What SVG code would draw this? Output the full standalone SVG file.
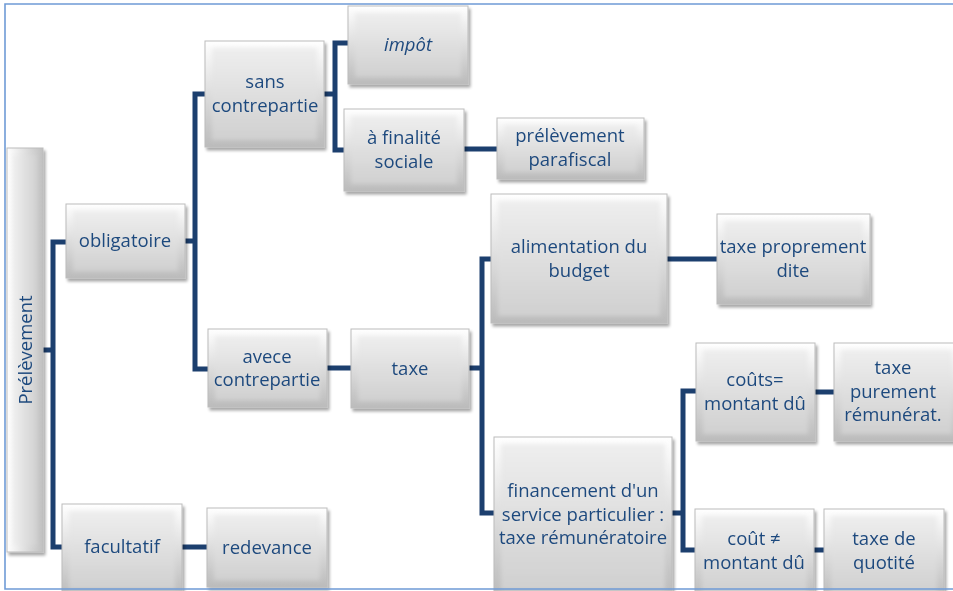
<svg xmlns="http://www.w3.org/2000/svg" width="953" height="591" viewBox="0 0 953 591">
  <defs>
    <linearGradient id="gOuter" x1="0" y1="0" x2="0" y2="1">
      <stop offset="0" stop-color="#ffffff"/>
      <stop offset="1" stop-color="#bbbbbb"/>
    </linearGradient>
    <linearGradient id="gInner" x1="0" y1="0" x2="0" y2="1">
      <stop offset="0" stop-color="#eeeeee"/>
      <stop offset="1" stop-color="#d0d0d0"/>
    </linearGradient>
    <linearGradient id="gOuterH" x1="0" y1="0" x2="1" y2="0">
      <stop offset="0" stop-color="#ffffff"/>
      <stop offset="1" stop-color="#c0c0c0"/>
    </linearGradient>
    <linearGradient id="gInnerH" x1="0" y1="0" x2="1" y2="0">
      <stop offset="0" stop-color="#eeeeee"/>
      <stop offset="1" stop-color="#d2d2d2"/>
    </linearGradient>
    <filter id="shadow" x="-10%" y="-10%" width="130%" height="130%">
      <feGaussianBlur in="SourceAlpha" stdDeviation="1.6"/>
      <feOffset dx="2" dy="3" result="b"/>
      <feComponentTransfer><feFuncA type="linear" slope="0.35"/></feComponentTransfer>
      <feMerge><feMergeNode/><feMergeNode in="SourceGraphic"/></feMerge>
    </filter>
    <filter id="soft" x="-10%" y="-10%" width="120%" height="120%">
      <feGaussianBlur stdDeviation="2.2"/>
    </filter>
  </defs>
  <style>
    .box { fill: url(#gOuter); stroke: #bcbcbc; stroke-width: 1; }
    .bevel { fill: url(#gInner); filter: url(#soft); }
    .boxH { fill: url(#gOuterH); stroke: #bcbcbc; stroke-width: 1; }
    .bevelH { fill: url(#gInnerH); filter: url(#soft); }
    .node { filter: url(#shadow); }
    text { font-family: "Open Sans", "Noto Sans", "Liberation Sans", sans-serif; font-size: 18.5px; fill: #1f4a7e; text-anchor: middle; }
    .it { font-style: italic; }
    .link { fill: none; stroke: #1c3f6e; stroke-width: 5; stroke-linejoin: miter; }
    .frame { fill: none; stroke: #6f9bd6; stroke-width: 1.6; }
  </style>

  <rect width="953" height="591" fill="#ffffff"/>

  <g id="connectors">
    <path class="link" d="M43 350 H53 M66 242 H53 V547 H62"/>
    <path class="link" d="M185 241 H195 M205 94 H195 V369 H208"/>
    <path class="link" d="M324 94 H335 M348 43 H335 V150 H344"/>
    <path class="link" d="M464 149 H497"/>
    <path class="link" d="M182 547 H207"/>
    <path class="link" d="M327 368 H351"/>
    <path class="link" d="M469 368 H482 M491 259 H482 V513 H494"/>
    <path class="link" d="M667 259 H717"/>
    <path class="link" d="M672 513 H683 M696 391 H683 V550 H695"/>
    <path class="link" d="M815 392 H834"/>
    <path class="link" d="M814 550 H824"/>
  </g>

  <g id="prelevement" class="node">
    <rect class="boxH" x="7" y="148" width="36" height="404"/>
    <rect class="bevelH" x="14" y="155" width="22" height="390"/>
    <text transform="translate(31.5 350) rotate(-90)">Prélèvement</text>
  </g>

  <g id="obligatoire" class="node">
    <rect class="box" x="66" y="204" width="119" height="74"/>
    <rect class="bevel" x="73" y="211" width="105" height="60"/>
    <text x="125" y="246.5">obligatoire</text>
  </g>

  <g id="facultatif" class="node">
    <rect class="box" x="62" y="504" width="120" height="92"/>
    <rect class="bevel" x="69" y="511" width="106" height="78"/>
    <text x="122" y="552.5">facultatif</text>
  </g>

  <g id="redevance" class="node">
    <rect class="box" x="207" y="508" width="120" height="79"/>
    <rect class="bevel" x="214" y="515" width="106" height="65"/>
    <text x="267" y="553.5">redevance</text>
  </g>

  <g id="sans-contrepartie" class="node">
    <rect class="box" x="205" y="41" width="119" height="106"/>
    <rect class="bevel" x="212" y="48" width="105" height="92"/>
    <text x="265" y="88">sans</text>
    <text x="265" y="111.5">contrepartie</text>
  </g>

  <g id="impot" class="node">
    <rect class="box" x="348" y="6" width="120" height="78"/>
    <rect class="bevel" x="355" y="13" width="106" height="64"/>
    <text class="it" x="408" y="50.5">impôt</text>
  </g>

  <g id="finalite-sociale" class="node">
    <rect class="box" x="344" y="109" width="120" height="82"/>
    <rect class="bevel" x="351" y="116" width="106" height="68"/>
    <text x="404" y="144">à finalité</text>
    <text x="404" y="167.5">sociale</text>
  </g>

  <g id="prelevement-parafiscal" class="node">
    <rect class="box" x="497" y="118" width="147" height="61"/>
    <rect class="bevel" x="504" y="125" width="133" height="47"/>
    <text x="570" y="142">prélèvement</text>
    <text x="570" y="165.5">parafiscal</text>
  </g>

  <g id="alimentation-budget" class="node">
    <rect class="box" x="491" y="194" width="176" height="129"/>
    <rect class="bevel" x="498" y="201" width="162" height="115"/>
    <text x="579" y="253">alimentation du</text>
    <text x="579" y="276.5">budget</text>
  </g>

  <g id="taxe-proprement-dite" class="node">
    <rect class="box" x="717" y="214" width="153" height="90"/>
    <rect class="bevel" x="724" y="221" width="139" height="76"/>
    <text x="793" y="253">taxe proprement</text>
    <text x="793" y="276.5">dite</text>
  </g>

  <g id="avec-contrepartie" class="node">
    <rect class="box" x="208" y="329" width="119" height="78"/>
    <rect class="bevel" x="215" y="336" width="105" height="64"/>
    <text x="267" y="362.5">avece</text>
    <text x="267" y="386">contrepartie</text>
  </g>

  <g id="taxe" class="node">
    <rect class="box" x="351" y="329" width="118" height="79"/>
    <rect class="bevel" x="358" y="336" width="104" height="65"/>
    <text x="410" y="374.5">taxe</text>
  </g>

  <g id="financement-service" class="node">
    <rect class="box" x="494" y="437" width="178" height="160"/>
    <rect class="bevel" x="501" y="444" width="164" height="146"/>
    <text x="583" y="496.5">financement d'un</text>
    <text x="583" y="520.5">service particulier :</text>
    <text x="583" y="544">taxe rémunératoire</text>
  </g>

  <g id="couts-egal" class="node">
    <rect class="box" x="696" y="343" width="119" height="98"/>
    <rect class="bevel" x="703" y="350" width="105" height="84"/>
    <text x="755" y="385.5">coûts=</text>
    <text x="755" y="409.5">montant dû</text>
  </g>

  <g id="taxe-purement" class="node">
    <rect class="box" x="834" y="343" width="125" height="98"/>
    <rect class="bevel" x="841" y="350" width="111" height="84"/>
    <text x="893" y="374">taxe</text>
    <text x="893" y="397.5">purement</text>
    <text x="893" y="421">rémunérat.</text>
  </g>

  <g id="cout-different" class="node">
    <rect class="box" x="695" y="509" width="119" height="90"/>
    <rect class="bevel" x="702" y="516" width="105" height="76"/>
    <text x="754" y="544.5">coût ≠</text>
    <text x="754" y="568.5">montant dû</text>
  </g>

  <g id="taxe-quotite" class="node">
    <rect class="box" x="824" y="509" width="120" height="90"/>
    <rect class="bevel" x="831" y="516" width="106" height="76"/>
    <text x="884" y="544.5">taxe de</text>
    <text x="884" y="568.5">quotité</text>
  </g>

  <path class="frame" d="M953 4 H5 V589 H953"/>
</svg>
